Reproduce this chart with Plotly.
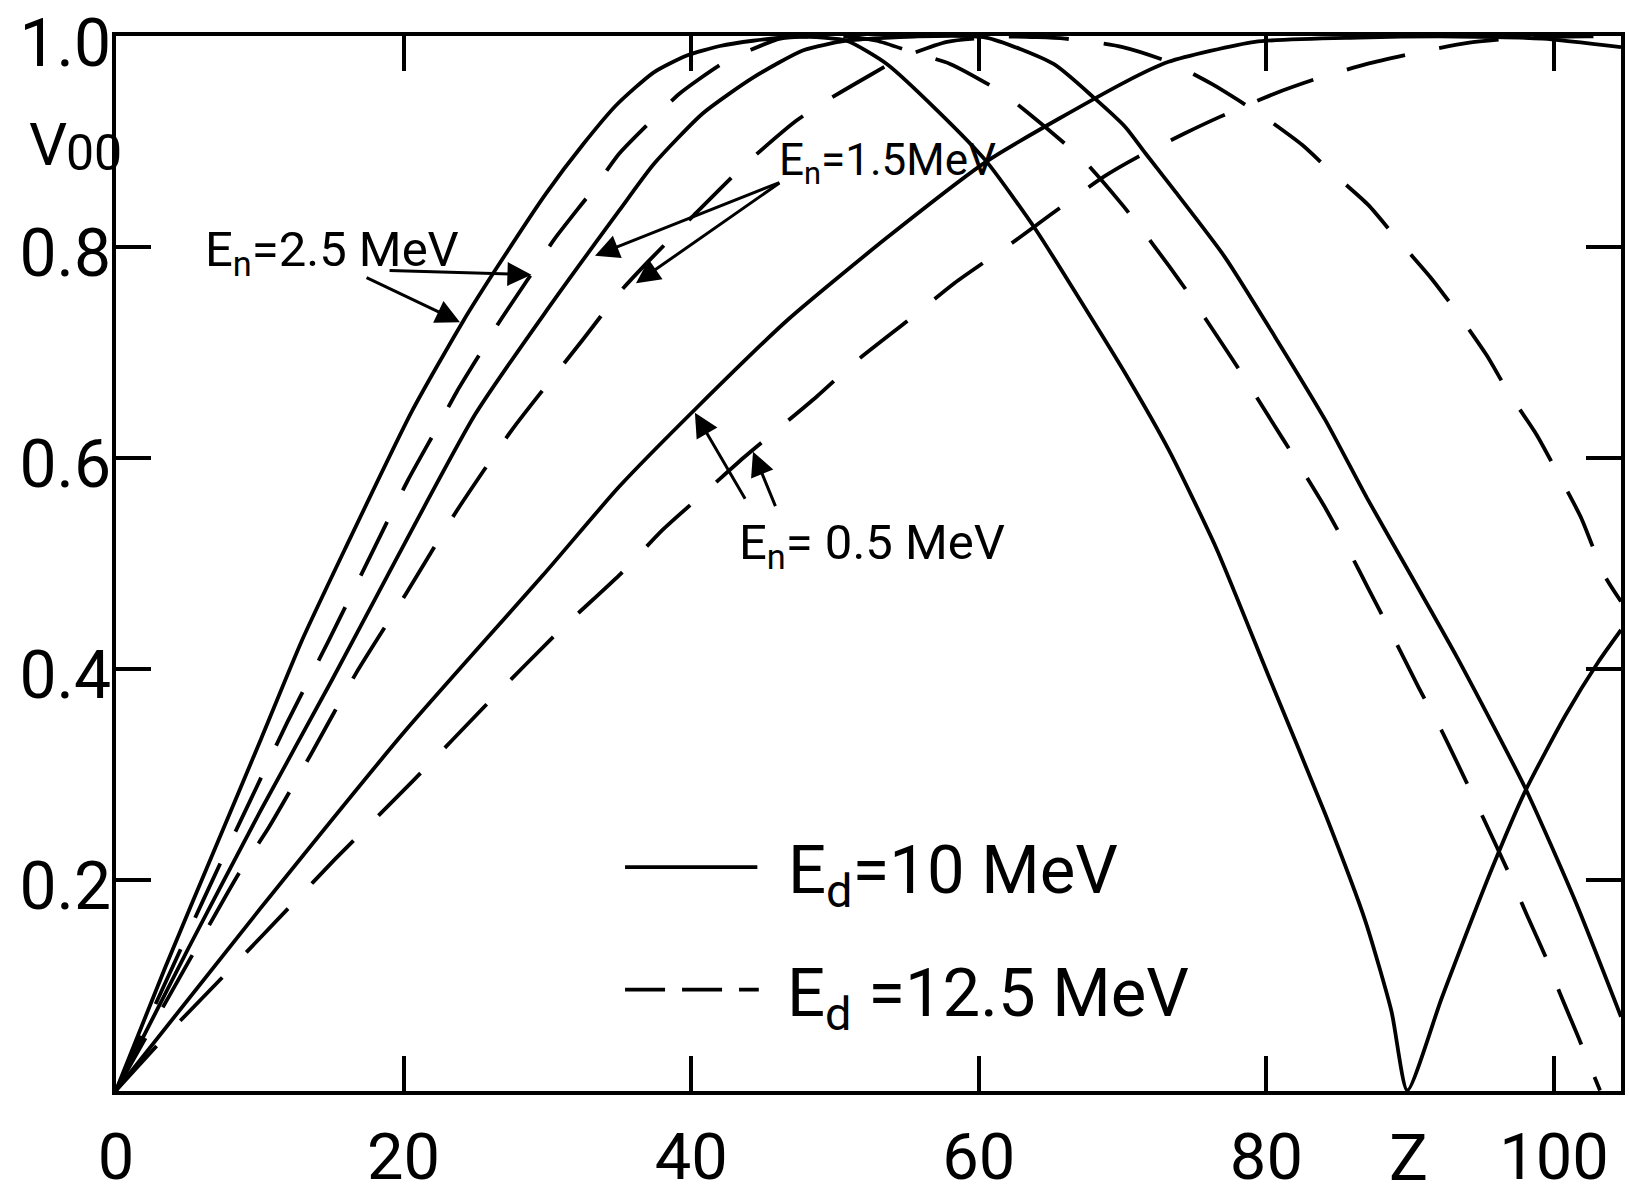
import plotly.graph_objects as go

# ---------------- data ----------------
# Ed = 10 MeV (solid)
z_s25 = [0, 3.4, 6.9, 10.1, 12.9, 15.9, 20.6, 24.1, 26.5, 29.9, 32.5, 34.8, 37.4, 39.7, 42.0, 44.3, 47.5,
         50.8, 53.6, 57.1, 60.5, 64.0, 67.5, 70.2, 73.2, 76.5, 80.1, 84.1, 86.9, 88.7, 89.8,
         92.2, 95.7, 98.0, 100.8, 103.1, 104.66]
v_s25 = [0, 0.116, 0.230, 0.334, 0.426, 0.513, 0.645, 0.729, 0.781, 0.851, 0.898, 0.935, 0.966, 0.982, 0.991, 0.996, 1.0,
         0.996, 0.974, 0.930, 0.882, 0.816, 0.740, 0.680, 0.608, 0.515, 0.395, 0.262, 0.160, 0.075, 0.0,
         0.088, 0.211, 0.284, 0.356, 0.407, 0.437]

z_s15 = [0, 5, 10, 15, 18.9, 25.0, 30.1, 35.0, 37.4, 40.8, 44.3, 47.8, 50.8, 55.5, 60.5, 65.2, 68.0, 70.2,
         71.6, 73.6, 77.1, 80.6, 84.1, 87.0, 90.0, 93.3, 98.0, 101.5, 104.66]
v_s15 = [0, 0.134, 0.264, 0.389, 0.489, 0.642, 0.743, 0.835, 0.879, 0.927, 0.961, 0.987, 0.996, 1.0, 0.999, 0.974, 0.942, 0.914,
         0.889, 0.854, 0.791, 0.715, 0.636, 0.562, 0.490, 0.410, 0.287, 0.179, 0.070]

z_s05 = [0, 10, 20.1, 29.7, 35.0, 40.4, 46.7, 53.6, 60.6, 70.2, 73.2, 79.2, 86.4, 93.3, 99.2, 104.66]
v_s05 = [0, 0.172, 0.341, 0.489, 0.573, 0.648, 0.731, 0.809, 0.882, 0.957, 0.976, 0.995, 0.999, 1.0, 0.998, 0.990]

# Ed = 12.5 MeV (dashed)
z_d25 = [0, 5.0, 7.2, 9.3, 11.9, 14.8, 17.9, 20.3, 22.3, 23.7, 25.4, 26.6, 28.9, 30.5, 33.3, 35.0, 37.6, 39.2,
         42.0, 44.1, 46.2, 50.5, 52.9, 55.4, 58.0, 61.6, 63.2, 66.1, 67.6, 70.0, 71.1, 73.3, 74.6, 76.9,
         78.2, 80.6, 81.8, 84.0, 85.7, 87.1, 88.5, 90.6, 92.2, 94.0, 95.1, 96.8, 98.1, 99.7, 100.3, 101.8,
         102.6, 103.2]
v_d25 = [0, 0.149, 0.214, 0.274, 0.349, 0.427, 0.513, 0.579, 0.628, 0.663, 0.701, 0.728, 0.775, 0.808, 0.857, 0.889, 0.925, 0.946,
         0.973, 0.987, 0.998, 1.0, 0.996, 0.985, 0.974, 0.947, 0.930, 0.897, 0.878, 0.840, 0.821, 0.781, 0.756, 0.709,
         0.682, 0.630, 0.604, 0.555, 0.513, 0.476, 0.439, 0.382, 0.341, 0.290, 0.258, 0.208, 0.167, 0.118, 0.096, 0.047,
         0.020, 0.0]

z_d15 = [0, 5.7, 8.5, 10.6, 13.6, 16.7, 20.2, 23.6, 27.6, 32.5, 35.0, 36.9, 40.0, 43.7, 47.3, 49.4, 52.4, 54.5,
         57.8, 62.0, 66.0, 70.0, 73.2, 76.2, 79.7, 82.5, 84.4, 87.1, 88.9, 91.5, 93.0, 95.3, 96.8, 98.8,
         100.2, 101.9, 103.5, 104.66]
v_d15 = [0, 0.138, 0.205, 0.249, 0.320, 0.396, 0.472, 0.548, 0.628, 0.713, 0.757, 0.785, 0.828, 0.878, 0.920, 0.939, 0.963, 0.979,
         0.995, 1.0, 0.998, 0.990, 0.976, 0.955, 0.925, 0.897, 0.873, 0.840, 0.811, 0.770, 0.743, 0.698, 0.663, 0.622,
         0.587, 0.543, 0.489, 0.464]

z_d05 = [0, 3.9, 7.8, 12.2, 15.2, 20.6, 26.1, 30.9, 35.0, 38.1, 41.4, 43.7, 48.7, 51.3, 55.4, 58.3, 62.4, 65.2,
         68.7, 71.1, 74.3, 76.8, 80.6, 83.5, 87.0, 90.2, 94.0, 98.0, 101.0, 104.66]
v_d05 = [0, 0.058, 0.113, 0.176, 0.219, 0.293, 0.371, 0.437, 0.489, 0.533, 0.573, 0.601, 0.658, 0.690, 0.734, 0.766, 0.805, 0.833,
         0.867, 0.886, 0.908, 0.924, 0.946, 0.960, 0.974, 0.984, 0.994, 0.999, 1.0, 1.0]

x_tickvals = [0, 20, 40, 60, 80, 100]
x_ticktext = ["0", "20", "40", "60", "80", "100"]
y_tickvals = [0.2, 0.4, 0.6, 0.8, 1.0]
y_ticktext = ["0.2", "0.4", "0.6", "0.8", "1.0"]

# ---------------- figure ----------------
FONT = "Roboto, DejaVu Sans, sans-serif"
LW = 3.8
DASH = "60px,35px"

# plot area in pixels
L, R, T, B = 116, 1621, 36, 1091
W, H = 1629, 1196


def px(xp, yp):
    """pixel position -> paper coordinates"""
    return (xp - L) / (R - L), (B - yp) / (B - T)


fig = go.Figure()
for zz, vv, dash in [(z_s25, v_s25, "solid"), (z_s15, v_s15, "solid"), (z_s05, v_s05, "solid"),
                     (z_d25, v_d25, DASH), (z_d15, v_d15, DASH), (z_d05, v_d05, DASH)]:
    fig.add_trace(go.Scatter(x=zz, y=vv, mode="lines",
                             line=dict(color="black", width=LW, dash=dash, shape="spline", smoothing=0.6),
                             showlegend=False, hoverinfo="skip"))

fig.update_layout(
    width=W, height=H,
    margin=dict(l=L, r=W - R, t=T, b=H - B, autoexpand=False),
    paper_bgcolor="white", plot_bgcolor="white",
    font=dict(family=FONT, color="black"),
    showlegend=False,
)
fig.update_xaxes(range=[0, 104.66], tickvals=x_tickvals, ticktext=x_ticktext,
                 ticks="inside", ticklen=35, tickwidth=3.5, tickcolor="black",
                 showline=True, linewidth=3.5, linecolor="black", mirror="ticks",
                 showgrid=False, zeroline=False, tickfont=dict(size=65, family=FONT),
                 ticklabelstandoff=6, automargin=False, ticklabeloverflow="allow")
fig.update_yaxes(range=[-0.0005, 1.0005], tickvals=y_tickvals, ticktext=y_ticktext,
                 ticks="inside", ticklen=35, tickwidth=3.5, tickcolor="black",
                 showline=True, linewidth=3.5, linecolor="black", mirror="ticks",
                 showgrid=False, zeroline=False, tickfont=dict(size=66, family=FONT),
                 ticklabelstandoff=-12, ticklabelshift=6, automargin=False,
                 ticklabeloverflow="allow")

ann = []
# axis titles
vx, vy = px(48, 145)
ann.append(dict(x=vx, y=vy, xref="paper", yref="paper", text="V", showarrow=False,
                font=dict(size=60, family=FONT), xanchor="center", yanchor="middle"))
ox, oy = px(94, 153)
ann.append(dict(x=ox, y=oy, xref="paper", yref="paper", text="00", showarrow=False,
                font=dict(size=50, family=FONT), xanchor="center", yanchor="middle"))
zx, zy = px(1408, 1158)
ann.append(dict(x=zx, y=zy, xref="paper", yref="paper", text="Z", showarrow=False,
                font=dict(size=65, family=FONT), xanchor="center", yanchor="middle"))
# curve labels
ann.append(dict(x=6.05, y=0.795, text="E<sub>n</sub>=2.5 MeV", showarrow=False,
                font=dict(size=49, family=FONT), xanchor="left", yanchor="middle"))
ann.append(dict(x=46.0, y=0.88, text="E<sub>n</sub>=1.5MeV", showarrow=False,
                font=dict(size=44, family=FONT), xanchor="left", yanchor="middle"))
ann.append(dict(x=43.2, y=0.517, text="E<sub>n</sub>= 0.5 MeV", showarrow=False,
                font=dict(size=49, family=FONT), xanchor="left", yanchor="middle"))
# legend texts
ann.append(dict(x=46.6, y=0.205, text="E<sub>d</sub>=10 MeV", showarrow=False,
                font=dict(size=67, family=FONT), xanchor="left", yanchor="middle"))
ann.append(dict(x=46.5, y=0.088, text="E<sub>d</sub> =12.5 MeV", showarrow=False,
                font=dict(size=67, family=FONT), xanchor="left", yanchor="middle"))

# arrows (head, tail)
arrows = [((28.89, 0.774), (18.92, 0.778)),
          ((23.92, 0.729), (17.32, 0.772)),
          ((33.31, 0.792), (46.24, 0.862)),
          ((36.16, 0.766), (46.24, 0.862)),
          ((40.26, 0.643), (43.81, 0.560)),
          ((44.30, 0.606), (45.90, 0.553))]
for (hx, hy), (tx, ty) in arrows:
    ann.append(dict(x=hx, y=hy, ax=tx, ay=ty, axref="x", ayref="y", xref="x", yref="y",
                    text="", showarrow=True, arrowhead=2, arrowsize=1.6, arrowwidth=3,
                    arrowcolor="black", standoff=0, startstandoff=0))
fig.update_layout(annotations=ann)

# legend line samples
fig.add_shape(type="line", x0=35.4, x1=44.6, y0=0.212, y1=0.212, xref="x", yref="y",
              line=dict(color="black", width=LW))
fig.add_shape(type="line", x0=35.4, x1=44.7, y0=0.0957, y1=0.0957, xref="x", yref="y",
              line=dict(color="black", width=LW, dash="40px,17px"))

fig.write_html("out.html")
